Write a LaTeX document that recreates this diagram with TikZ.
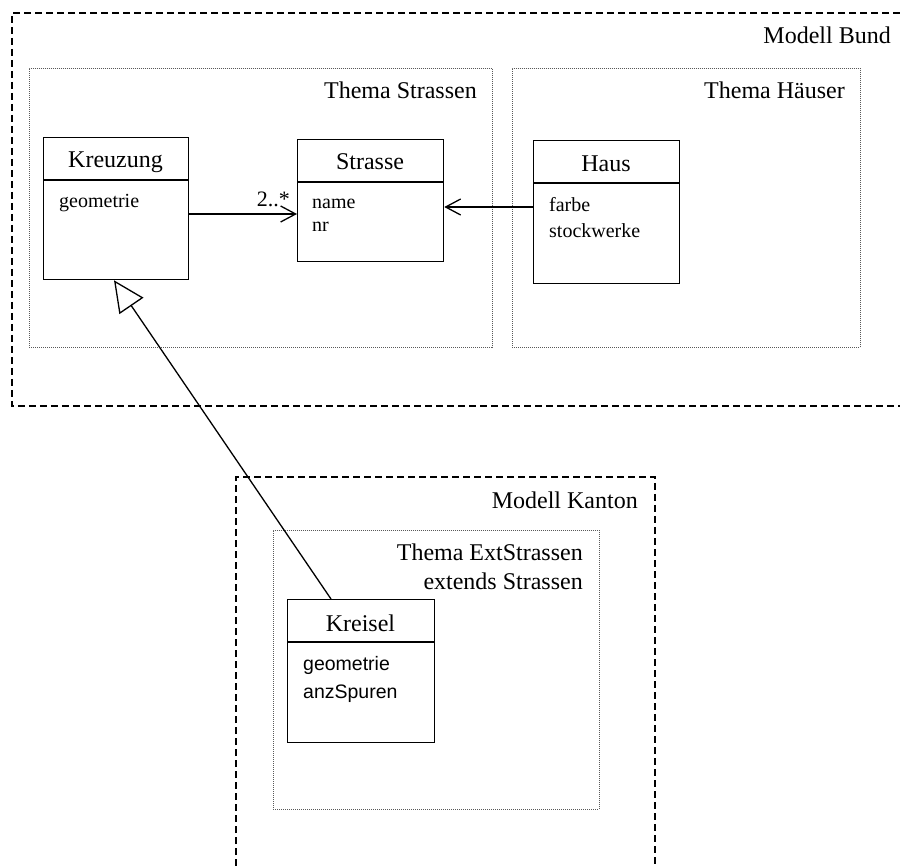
\documentclass[tikz,border=0pt]{standalone}
\usepackage{fontspec}
\setmainfont{Liberation Serif}
\newfontfamily\arialfont{Liberation Sans}
\usetikzlibrary{arrows.meta}
\begin{document}
\begin{tikzpicture}[x=1pt,y=-1pt,
  modelline/.style={line width=2.5pt, dash pattern=on 7pt off 4pt},
  themebox/.style={draw=black!65, line width=0.9pt, dash pattern=on 1pt off 1pt},
  classbox/.style={draw, line width=1.3pt, inner sep=0pt, anchor=north west},
  bigtext/.style={font=\fontsize{24}{28}\selectfont, inner sep=0pt},
  rtitle/.style={bigtext, anchor=base east},
  ctitle/.style={bigtext, anchor=base},
  attr/.style={font=\fontsize{20}{23}\selectfont, anchor=base west, inner sep=0pt},
  sattr/.style={font=\arialfont\fontsize{19.5}{23}\selectfont, anchor=base west, inner sep=0pt},
  assoc/.style={line width=1.3pt, -{Straight Barb[length=15pt,width=16pt,line width=1.3pt]}},
  gen/.style={line width=1.3pt, -{Triangle[open,length=31pt,width=29pt,line width=1.3pt,fill=white]}},
]
\useasboundingbox (0,0) rectangle (900,866);

% Modell Bund
\draw[modelline] (900,13) -- (12,13) -- (12,406) -- (900,406);
\node[rtitle] (mbund) at (891,44) {Modell Bund};

% Modell Kanton
\draw[modelline] (236,866) -- (236,477) -- (655,477) -- (655,866);
\node[rtitle] (mkanton) at (638,508) {Modell Kanton};

% Themes
\node[themebox, anchor=north west, minimum width=463pt, minimum height=279pt, inner sep=0pt] (tstrassen) at (29,68) {};
\node[rtitle] (tstrassenlbl) at (477,99) {Thema Strassen};
\node[themebox, anchor=north west, minimum width=348pt, minimum height=279pt, inner sep=0pt] (thaeuser) at (512,68) {};
\node[rtitle] (thaeuserlbl) at (845,99) {Thema Häuser};
\node[themebox, anchor=north west, minimum width=326pt, minimum height=279pt, inner sep=0pt] (text) at (273,530) {};
\node[rtitle] (textlbl1) at (583,560) {Thema ExtStrassen};
\node[rtitle] (textlbl2) at (583,589) {extends Strassen};

% Kreuzung
\node[classbox, minimum width=145pt, minimum height=142pt] (kreuzung) at (43,137) {};
\draw[line width=1.3pt] (43,180) -- (188,180);
\node[ctitle] (kreuzungt) at (115.5,168) {Kreuzung};
\node[attr] (kreuzunga) at (59,208) {geometrie};

% Strasse
\node[classbox, minimum width=146pt, minimum height=122pt] (strasse) at (297,139) {};
\draw[line width=1.3pt] (297,182) -- (443,182);
\node[ctitle] (strasset) at (370,170) {Strasse};
\node[attr] (strassea1) at (312,209) {name};
\node[attr] (strassea2) at (312,232) {nr};

% Haus
\node[classbox, minimum width=146pt, minimum height=143pt] (haus) at (533,140) {};
\draw[line width=1.3pt] (533,183) -- (679,183);
\node[ctitle] (haust) at (606,172) {Haus};
\node[attr] (hausa1) at (549,212) {farbe};
\node[attr] (hausa2) at (549,238) {stockwerke};

% Kreisel
\node[classbox, minimum width=147pt, minimum height=143pt] (kreisel) at (287,599) {};
\draw[line width=1.3pt] (287,642) -- (434,642);
\node[ctitle] (kreiselt) at (360.5,631) {Kreisel};
\node[sattr] (kreisela1) at (303,670) {geometrie};
\node[sattr] (kreisela2) at (303,698) {anzSpuren};

% connectors
\coordinate (ya) at (0,214);
\coordinate (yb) at (0,207);
\draw[assoc] (kreuzung.east |- ya) -- (strasse.west |- ya);
\node[font=\fontsize{22}{24}\selectfont, anchor=base east, inner sep=0pt] (mult) at (290,207) {2..*};
\draw[assoc] (haus.west |- yb) -- (strasse.east |- yb);
\draw[gen] ([xshift=44pt]kreisel.north west) -- ([xshift=71pt]kreuzung.south west);
\end{tikzpicture}
\end{document}
